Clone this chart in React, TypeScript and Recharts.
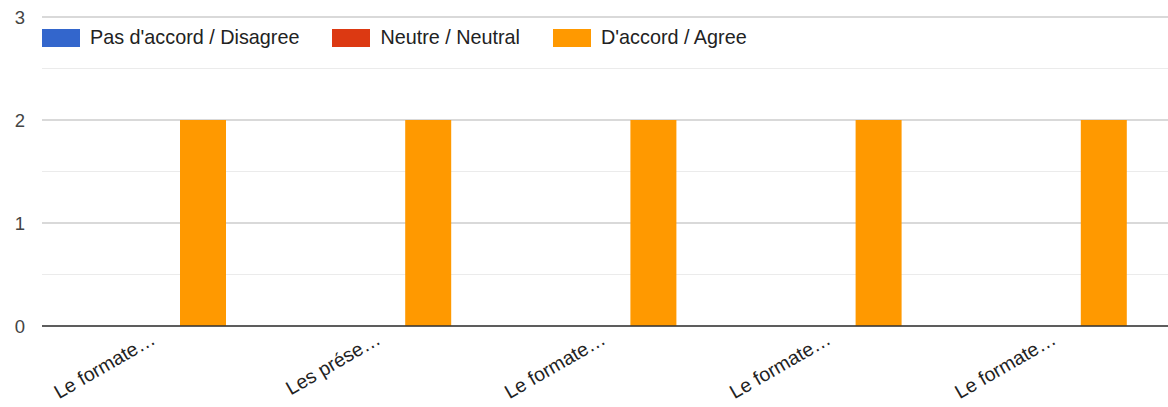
import React from 'react';
import { BarChart, Bar, XAxis, YAxis, CartesianGrid, Legend } from 'recharts';

const categories = ['Le formate…', 'Les prése…', 'Le formate…', 'Le formate…', 'Le formate…'];
const disagree = [0, 0, 0, 0, 0];
const neutral = [0, 0, 0, 0, 0];
const agree = [2, 2, 2, 2, 2];
const yTicks = [0, 0.5, 1, 1.5, 2, 2.5, 3];
const seriesKeys = ['disagree', 'neutral', 'agree'];
const seriesNames = ['Pas d\'accord / Disagree', 'Neutre / Neutral', 'D\'accord / Agree'];
const seriesColors = ['#3366cc', '#dc3912', '#ff9900'];

const data = categories.map((c, i) => ({
  name: c,
  disagree: disagree[i],
  neutral: neutral[i],
  agree: agree[i],
}));

const FONT = 'Arial, "Liberation Sans", sans-serif';

const XTick = (props: any) => {
  const { x, y, payload } = props;
  return (
    <g transform={`translate(${x + 2},${y + 9})`}>
      <text x={0} y={0} transform="rotate(-30)" textAnchor="end" fill="#222" fontSize={19.5} fontFamily={FONT}>
        {payload.value}
      </text>
    </g>
  );
};

const LegendContent = () => {
  return (
    <div style={{ display: 'flex', alignItems: 'center', fontFamily: FONT, fontSize: 19.8, color: '#222', lineHeight: '19px', whiteSpace: 'nowrap' }}>
      {seriesNames.map((n, i) => (
        <div key={i} style={{ display: 'flex', alignItems: 'center', marginRight: 33 }}>
          <span style={{ display: 'inline-block', width: 38, height: 18, background: seriesColors[i], marginRight: 10 }} />
          <span>{n}</span>
        </div>
      ))}
    </div>
  );
};

const gridLine = (props: any) => {
  const { x1, x2, y1, y2, index } = props;
  const major = index % 2 === 0;
  return (
    <line key={`g-${index}`} x1={x1} x2={x2} y1={y1} y2={y2} stroke={major ? '#cccccc' : '#ebebeb'} strokeWidth={major ? 1.5 : 1} />
  );
};

export default function App() {
  return (
    <div style={{ position: 'absolute', left: 0, top: 0, width: 1168, height: 407, background: '#fff' }}>
      <BarChart
        width={1168}
        height={407}
        data={data}
        margin={{ top: 17, right: 0, left: 0, bottom: 0 }}
        barSize={46}
        barGap={2}
      >
        <CartesianGrid vertical={false} horizontal={gridLine} />
        <XAxis
          dataKey="name"
          height={81}
          interval={0}
          tickLine={false}
          axisLine={{ stroke: '#333', strokeWidth: 1.5 }}
          tick={<XTick />}
        />
        <YAxis
          width={42}
          domain={[0, 3]}
          ticks={yTicks}
          interval={0}
          axisLine={false}
          tickLine={false}
          tickMargin={11}
          tickFormatter={(v: number) => (Number.isInteger(v) ? String(v) : '')}
          tick={{ fill: '#444', fontSize: 18.5, fontFamily: FONT }}
        />
        <Legend
          verticalAlign="middle"
          align="center"
          layout="horizontal"
          content={<LegendContent />}
          wrapperStyle={{ position: 'absolute', top: 28, left: 42, width: 900, height: 19 }}
        />
        {seriesKeys.map((k, i) => (
          <Bar key={k} dataKey={k} name={seriesNames[i]} fill={seriesColors[i]} isAnimationActive={false} />
        ))}
      </BarChart>
    </div>
  );
}
